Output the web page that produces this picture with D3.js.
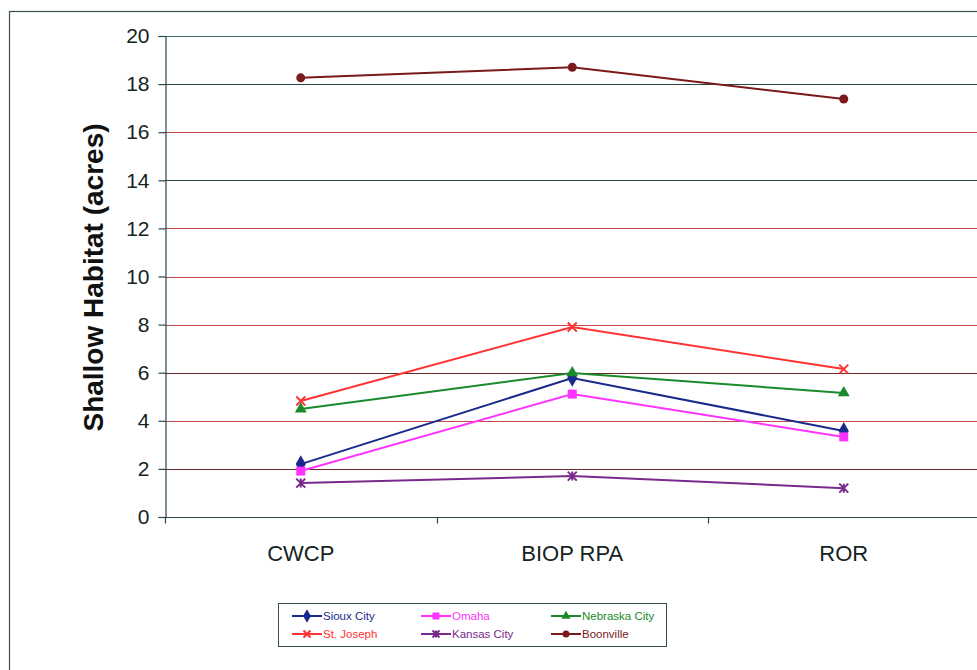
<!DOCTYPE html>
<html>
<head>
<meta charset="utf-8">
<script src="https://cdn.jsdelivr.net/npm/d3@7"></script>
<style>
  html, body { margin: 0; padding: 0; background: #fff; overflow: hidden; }
  svg { display: block; font-family: "Liberation Sans", Arial, sans-serif; }
</style>
</head>
<body>
<svg id="chart" width="977" height="670"></svg>
<script>
// Shallow habitat area by flow alternative, per river reach
const categories = ["CWCP", "BIOP RPA", "ROR"];
const yTicks = [0, 2, 4, 6, 8, 10, 12, 14, 16, 18, 20];

const siouxCity    = [2.2, 5.78, 3.58];
const omaha        = [1.91, 5.11, 3.33];
const nebraskaCity = [4.49, 5.99, 5.16];
const stJoseph     = [4.82, 7.9, 6.15];
const kansasCity   = [1.41, 1.7, 1.2];
const boonville    = [18.26, 18.7, 17.38];

const seriesNames = ["Sioux City", "Omaha", "Nebraska City", "St. Joseph", "Kansas City", "Boonville"];

const series = [
  { name: seriesNames[0], values: siouxCity,    color: "#1a2a8c", symbol: "diamond" },
  { name: seriesNames[1], values: omaha,        color: "#ff33ff", symbol: "square" },
  { name: seriesNames[2], values: nebraskaCity, color: "#1a8a2a", symbol: "triangle" },
  { name: seriesNames[3], values: stJoseph,     color: "#ff3333", symbol: "x" },
  { name: seriesNames[4], values: kansasCity,   color: "#7a2a8c", symbol: "star" },
  { name: seriesNames[5], values: boonville,    color: "#7a1a1a", symbol: "circle" }
];

const svg = d3.select("#chart");

// outer chart frame (runs off the right and bottom edges)
svg.append("rect")
  .attr("x", 9.5).attr("y", 11.5)
  .attr("width", 1000).attr("height", 700)
  .attr("fill", "none")
  .attr("stroke", "#3a5050").attr("stroke-width", 1.2);

const plot = { left: 165, top: 36, bottom: 517 };
const bandW = 271.5;

const x = d3.scaleBand()
  .domain(categories)
  .range([plot.left, plot.left + bandW * categories.length])
  .paddingInner(0).paddingOuter(0);

const y = d3.scaleLinear().domain([0, 20]).range([plot.bottom, plot.top]);

// horizontal gridlines
const gridColor = v => (v === 20 ? "#3a7070" : (v === 18 || v === 14) ? "#2a4848" : (v === 6 || v === 2) ? "#6a2a2a" : "#c84848");
svg.append("g")
  .selectAll("line")
  .data(yTicks.filter(v => v > 0))
  .join("line")
  .attr("x1", plot.left).attr("x2", 977)
  .attr("y1", d => Math.round(y(d)) + 0.5).attr("y2", d => Math.round(y(d)) + 0.5)
  .attr("stroke", gridColor).attr("stroke-width", 1.2);

// y axis
const yAxis = svg.append("g")
  .attr("transform", `translate(${plot.left + 0.5},0)`)
  .call(d3.axisLeft(y).tickValues(yTicks).tickSize(7).tickPadding(9).tickFormat(d3.format("d")));
yAxis.select(".domain").attr("stroke", "#2a4848").attr("stroke-width", 1.2);
yAxis.selectAll(".tick line").attr("stroke", "#2a4848").attr("stroke-width", 1.2);
yAxis.selectAll(".tick text")
  .attr("font-size", 21).attr("fill", "#142424")
  .attr("font-family", "Liberation Sans, Arial, sans-serif");

// x axis with ticks at category boundaries
const xAxisG = svg.append("g").attr("transform", `translate(0,${plot.bottom + 0.5})`);
xAxisG.append("line")
  .attr("x1", plot.left).attr("x2", 977)
  .attr("stroke", "#2a4848").attr("stroke-width", 1.2);
xAxisG.selectAll("line.tk")
  .data(categories.map(c => x(c)).concat([x(categories[categories.length - 1]) + x.bandwidth()]))
  .join("line").attr("class", "tk")
  .attr("x1", d => Math.round(d) + 0.5).attr("x2", d => Math.round(d) + 0.5)
  .attr("y1", 0).attr("y2", 6)
  .attr("stroke", "#2a4848").attr("stroke-width", 1.2);
xAxisG.selectAll("text")
  .data(categories)
  .join("text")
  .attr("x", d => x(d) + x.bandwidth() / 2)
  .attr("y", 43)
  .attr("text-anchor", "middle")
  .attr("font-size", 22).attr("fill", "#142424")
  .text(d => d);

// y axis title
svg.append("text")
  .attr("transform", `translate(103,${(plot.top + plot.bottom) / 2 + 1}) rotate(-90)`)
  .attr("text-anchor", "middle")
  .attr("font-size", 28).attr("font-weight", "bold").attr("fill", "#111")
  .text("Shallow Habitat (acres)");

// marker drawing
function drawMarker(g, symbol, color, size) {
  const s = size;
  if (symbol === "diamond") {
    g.append("path").attr("d", d3.symbol(d3.symbolDiamond, s * s * 1.1)()).attr("fill", color);
  } else if (symbol === "square") {
    g.append("rect").attr("x", -s / 2).attr("y", -s / 2).attr("width", s).attr("height", s).attr("fill", color);
  } else if (symbol === "triangle") {
    g.append("path").attr("d", d3.symbol(d3.symbolTriangle, s * s * 0.75)()).attr("fill", color);
  } else if (symbol === "circle") {
    g.append("circle").attr("r", s / 2).attr("fill", color);
  } else if (symbol === "x") {
    const h = s / 2;
    g.append("path").attr("d", `M${-h},${-h}L${h},${h}M${-h},${h}L${h},${-h}`)
      .attr("stroke", color).attr("stroke-width", 2).attr("fill", "none");
  } else if (symbol === "star") {
    const h = s / 2;
    g.append("path").attr("d", `M${-h},${-h}L${h},${h}M${-h},${h}L${h},${-h}M0,${-h}L0,${h}`)
      .attr("stroke", color).attr("stroke-width", 2).attr("fill", "none");
  }
}

const line = d3.line()
  .x((d, i) => x(categories[i]) + x.bandwidth() / 2)
  .y(d => y(d));

const seriesG = svg.append("g");
series.forEach(s => {
  seriesG.append("path")
    .datum(s.values)
    .attr("d", line)
    .attr("fill", "none")
    .attr("stroke", s.color)
    .attr("stroke-width", 2);
  s.values.forEach((v, i) => {
    const g = seriesG.append("g")
      .attr("transform", `translate(${x(categories[i]) + x.bandwidth() / 2},${y(v)})`);
    drawMarker(g, s.symbol, s.color, 9);
  });
});

// legend
const legend = svg.append("g");
legend.append("rect")
  .attr("x", 278.5).attr("y", 603.5).attr("width", 388).attr("height", 43)
  .attr("fill", "#fff").attr("stroke", "#3a5050").attr("stroke-width", 1);
const colX = [292, 421, 551];
const rowY = [616, 634];
series.forEach((s, i) => {
  const cx = colX[i % 3], cy = rowY[Math.floor(i / 3)];
  legend.append("line")
    .attr("x1", cx).attr("x2", cx + 30).attr("y1", cy).attr("y2", cy)
    .attr("stroke", s.color).attr("stroke-width", 2);
  const g = legend.append("g").attr("transform", `translate(${cx + 15},${cy})`);
  drawMarker(g, s.symbol, s.color, 7);
  legend.append("text")
    .attr("x", cx + 31).attr("y", cy + 4)
    .attr("font-size", 11.5).attr("fill", s.color)
    .text(s.name);
});
</script>
</body>
</html>
